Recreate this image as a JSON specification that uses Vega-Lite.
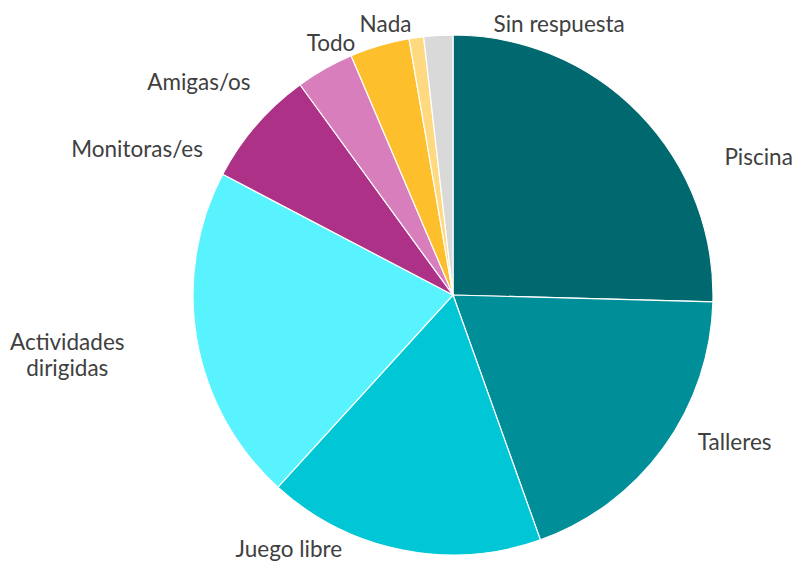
{
  "$schema": "https://vega.github.io/schema/vega-lite/v6.json",
  "width": 520,
  "height": 520,
  "autosize": {"type": "none"},
  "padding": {"left": 193, "top": 35, "right": 83, "bottom": 9},
  "background": "white",
  "config": {
    "view": {"stroke": null},
    "text": {"font": "Lato", "fontSize": 22.5, "fill": "#404040", "align": "center", "baseline": "alphabetic"}
  },
  "data": {
    "values": [
      {"categoria": "Piscina", "valor": 25.4, "orden": 1},
      {"categoria": "Talleres", "valor": 19.1, "orden": 2},
      {"categoria": "Juego libre", "valor": 17.2, "orden": 3},
      {"categoria": "Actividades dirigidas", "valor": 20.9, "orden": 4},
      {"categoria": "Monitoras/es", "valor": 7.3, "orden": 5},
      {"categoria": "Amigas/os", "valor": 3.6, "orden": 6},
      {"categoria": "Todo", "valor": 3.7, "orden": 7},
      {"categoria": "Nada", "valor": 0.9, "orden": 8},
      {"categoria": "Sin respuesta", "valor": 1.8, "orden": 9}
    ]
  },
  "encoding": {
    "theta": {"field": "valor", "type": "quantitative", "stack": true},
    "order": {"field": "orden", "type": "quantitative"}
  },
  "layer": [
    {
      "mark": {"type": "arc", "outerRadius": 260, "stroke": "white", "strokeWidth": 1.2},
      "encoding": {
        "color": {
          "field": "categoria",
          "type": "nominal",
          "scale": {
            "domain": ["Piscina", "Talleres", "Juego libre", "Actividades dirigidas", "Monitoras/es", "Amigas/os", "Todo", "Nada", "Sin respuesta"],
            "range": ["#00686F", "#008F98", "#00C6D5", "#58F3FF", "#AE3188", "#D87EBD", "#FEBF2C", "#FFD97F", "#D9D9D9"]
          },
          "legend": null
        }
      }
    },
    {
      "mark": {"type": "text", "radius": 280, "dx": 105, "dy": 65},
      "encoding": {"text": {"condition": {"test": "datum.categoria === 'Piscina'", "field": "categoria"}, "value": ""}}
    },
    {
      "mark": {"type": "text", "radius": 280, "dx": 55, "dy": -9},
      "encoding": {"text": {"condition": {"test": "datum.categoria === 'Talleres'", "field": "categoria"}, "value": ""}}
    },
    {
      "mark": {"type": "text", "radius": 280, "dx": -109, "dy": -13},
      "encoding": {"text": {"condition": {"test": "datum.categoria === 'Juego libre'", "field": "categoria"}, "value": ""}}
    },
    {
      "mark": {"type": "text", "radius": 280, "dx": -110, "dy": 6, "lineBreak": " ", "lineHeight": 26},
      "encoding": {"text": {"condition": {"test": "datum.categoria === 'Actividades dirigidas'", "field": "categoria"}, "value": ""}}
    },
    {
      "mark": {"type": "text", "radius": 280, "dx": -104, "dy": 45},
      "encoding": {"text": {"condition": {"test": "datum.categoria === 'Monitoras/es'", "field": "categoria"}, "value": ""}}
    },
    {
      "mark": {"type": "text", "radius": 280, "dx": -116, "dy": 39},
      "encoding": {"text": {"condition": {"test": "datum.categoria === 'Amigas/os'", "field": "categoria"}, "value": ""}}
    },
    {
      "mark": {"type": "text", "radius": 280, "dx": -43, "dy": 25},
      "encoding": {"text": {"condition": {"test": "datum.categoria === 'Todo'", "field": "categoria"}, "value": ""}}
    },
    {
      "mark": {"type": "text", "radius": 280, "dx": -28, "dy": 14},
      "encoding": {"text": {"condition": {"test": "datum.categoria === 'Nada'", "field": "categoria"}, "value": ""}}
    },
    {
      "mark": {"type": "text", "radius": 280, "dx": 122, "dy": 17},
      "encoding": {"text": {"condition": {"test": "datum.categoria === 'Sin respuesta'", "field": "categoria"}, "value": ""}}
    }
  ]
}
